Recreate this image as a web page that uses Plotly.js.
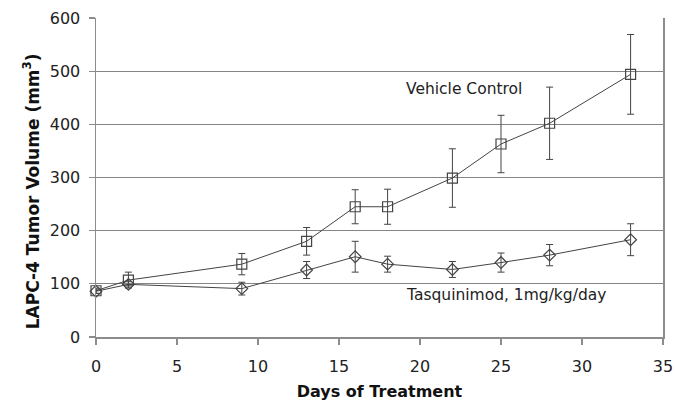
<!DOCTYPE html>
<html>
<head>
<meta charset="utf-8">
<script src="https://cdn.plot.ly/plotly-3.0.1.min.js"></script>
<style>
  html, body { margin: 0; padding: 0; background: #fff; }
  #chart { width: 675px; height: 402px; }
</style>
</head>
<body>
<div id="chart"></div>
<script>
// Days on which tumours were measured
const days = [0, 2, 9, 13, 16, 18, 22, 25, 28, 33];

// Vehicle control: mean tumour volume (mm^3) and error
const vehicleMean = [87, 107, 137, 180, 245, 245, 299, 363, 402, 494];
const vehicleErr  = [5, 15, 20, 26, 32, 33, 55, 54, 68, 75];

// Tasquinimod 1 mg/kg/day: mean tumour volume (mm^3) and error
const tasqMean = [86, 99, 91, 126, 151, 137, 127, 140, 154, 183];
const tasqErr  = [4, 5, 12, 16, 29, 15, 15, 18, 20, 30];

const xTicks = [0, 5, 10, 15, 20, 25, 30, 35];
const yTicks = [0, 100, 200, 300, 400, 500, 600];

const ink = '#444';
const font = 'DejaVu Sans, Verdana, sans-serif';

const traces = [
  {
    x: days, y: vehicleMean, name: 'Vehicle Control',
    type: 'scatter', mode: 'lines+markers', cliponaxis: false,
    line: { color: ink, width: 1 },
    marker: { symbol: 'square-open', size: 10, color: ink, line: { width: 1.2, color: ink } },
    error_y: { type: 'data', array: vehicleErr, visible: true, color: ink, thickness: 1, width: 3.5 }
  },
  {
    x: days, y: tasqMean, name: 'Tasquinimod, 1mg/kg/day',
    type: 'scatter', mode: 'lines+markers', cliponaxis: false,
    line: { color: ink, width: 1 },
    marker: { symbol: 'diamond-open', size: 9, color: ink, line: { width: 1.2, color: ink } },
    error_y: { type: 'data', array: tasqErr, visible: true, color: ink, thickness: 1, width: 3.5 }
  }
];

const layout = {
  width: 675, height: 402,
  margin: { l: 96, r: 12, t: 18, b: 65 },
  paper_bgcolor: '#fff', plot_bgcolor: '#fff',
  showlegend: false,
  font: { family: font, size: 16, color: '#222' },
  xaxis: {
    range: [0, 35], tickvals: xTicks, ticktext: xTicks.map(String),
    showgrid: false, zeroline: false,
    showline: true, linecolor: '#8c8c8c', linewidth: 1.5,
    ticks: 'outside', ticklen: 6, tickcolor: '#8c8c8c', tickwidth: 1.2,
    ticklabelstandoff: 8,
    tickfont: { family: font, size: 16, color: '#222' },
    title: { text: 'Days of Treatment', font: { family: font, size: 16, color: '#111', weight: 'bold' }, standoff: 11 }
  },
  yaxis: {
    range: [0, 600], tickvals: yTicks, ticktext: yTicks.map(String),
    showgrid: true, gridcolor: '#858585', gridwidth: 1.2, zeroline: false,
    showline: true, mirror: true, linecolor: '#8c8c8c', linewidth: 1.5,
    ticks: 'outside', ticklen: 6, tickcolor: '#8c8c8c', tickwidth: 1.2,
    ticklabelstandoff: 5,
    tickfont: { family: font, size: 16, color: '#222' }
  },
  annotations: [
    // vertical axis label, set slightly below the plot's mid-height
    { x: -0.114, y: 0.458, xref: 'paper', yref: 'paper', xanchor: 'center', yanchor: 'middle',
      textangle: -90, showarrow: false,
      text: 'LAPC-4 Tumor Volume (mm<sup>3</sup>)',
      font: { family: font, size: 17, color: '#111', weight: 'bold' } },
    { x: 22.7, y: 466, xref: 'x', yref: 'y', text: 'Vehicle Control', showarrow: false,
      font: { family: font, size: 15.5, color: '#222' } },
    { x: 25.3, y: 79, xref: 'x', yref: 'y', text: 'Tasquinimod, 1mg/kg/day', showarrow: false,
      font: { family: font, size: 15.5, color: '#222' } }
  ]
};

Plotly.newPlot('chart', traces, layout, { staticPlot: true, displayModeBar: false });
</script>
</body>
</html>
